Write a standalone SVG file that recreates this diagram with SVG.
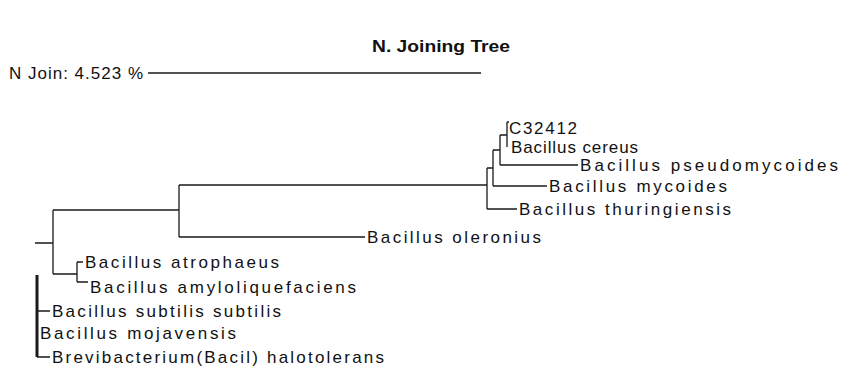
<svg xmlns="http://www.w3.org/2000/svg" width="841" height="372" viewBox="0 0 841 372">
<style>
.t{font-family:"Liberation Sans",Arial,sans-serif;font-size:17px;fill:#111}
.h{font-family:"Liberation Sans",Arial,sans-serif;font-size:16.5px;font-weight:bold;fill:#111}
.c{fill:none;stroke:#1a1a1a;stroke-width:1.3}
.k{fill:none;stroke:#1a1a1a;stroke-width:3}
</style>
<rect width="841" height="372" fill="#fff"/>
<g id="title"><text class="h" x="372" y="52" textLength="138" lengthAdjust="spacingAndGlyphs">N. Joining Tree</text></g>
<g id="scale"><text class="t" x="9" y="79" textLength="134" lengthAdjust="spacing">N Join:  4.523 %</text><path class="c" d="M148,73H481"/></g>
<g id="connectors">
<path class="c" d="M35,243H53M53,210V274M53,210H179M179,185V237M179,237H365M179,185H487M487,168V209M487,209H517M487,168H493M493,150V186M493,186H547M493,150H500M500,135V165M500,165H578M500,135H507M507,122V147M507,122H509"/>
<path class="c" d="M53,274H77M77,262V282M77,262H83M77,282H88"/>
<path class="k" d="M37,275V357"/>
<path class="c" d="M37,311H50M37,357H50"/>
</g>
<g id="C32412"><text class="t" x="509" y="134" textLength="68" lengthAdjust="spacing">C32412</text></g>
<g id="cereus"><text class="t" x="511" y="153" textLength="127" lengthAdjust="spacing">Bacillus cereus</text></g>
<g id="pseudomycoides"><text class="t" x="580" y="171" textLength="258" lengthAdjust="spacing">Bacillus pseudomycoides</text></g>
<g id="mycoides"><text class="t" x="549" y="192" textLength="178" lengthAdjust="spacing">Bacillus mycoides</text></g>
<g id="thuringiensis"><text class="t" x="519" y="215" textLength="212" lengthAdjust="spacing">Bacillus thuringiensis</text></g>
<g id="oleronius"><text class="t" x="367" y="243" textLength="174" lengthAdjust="spacing">Bacillus oleronius</text></g>
<g id="atrophaeus"><text class="t" x="85" y="268" textLength="194" lengthAdjust="spacing">Bacillus atrophaeus</text></g>
<g id="amyloliquefaciens"><text class="t" x="90" y="293" textLength="266" lengthAdjust="spacing">Bacillus amyloliquefaciens</text></g>
<g id="subtilis"><text class="t" x="52" y="317" textLength="229" lengthAdjust="spacing">Bacillus subtilis subtilis</text></g>
<g id="mojavensis"><text class="t" x="40" y="339" textLength="196" lengthAdjust="spacing">Bacillus mojavensis</text></g>
<g id="halotolerans"><text class="t" x="52" y="363" textLength="332" lengthAdjust="spacing">Brevibacterium(Bacil) halotolerans</text></g>
</svg>
